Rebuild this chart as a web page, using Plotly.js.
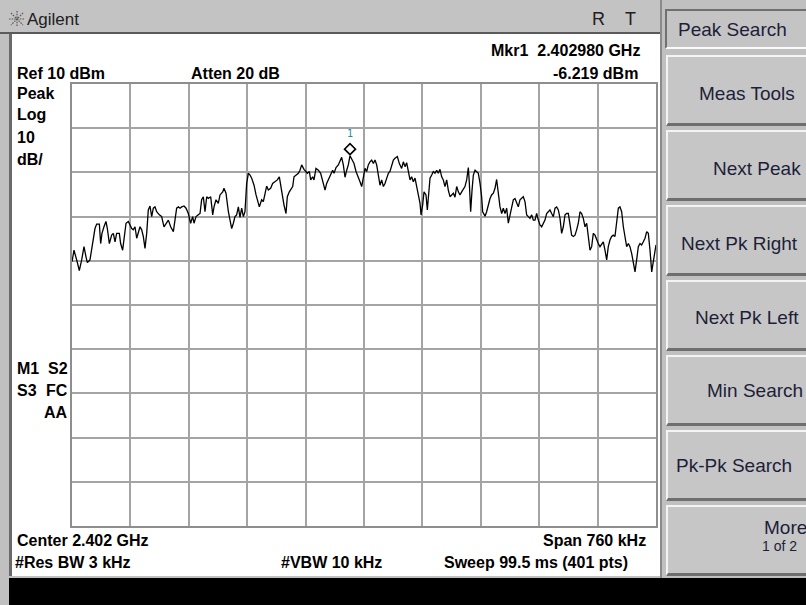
<!DOCTYPE html>
<html><head><meta charset="utf-8">
<script src="https://cdn.plot.ly/plotly-3.0.1.min.js"></script>
<style>
html,body{margin:0;padding:0;}
body{width:806px;height:605px;overflow:hidden;position:relative;background:#c0c0c0;font-family:"Liberation Sans",Arial,sans-serif;}
.abs{position:absolute;}
#titlebar{left:0;top:0;width:660px;height:32px;background:#c3c3c3;border-bottom:2px solid #5a5a5a;}
#screen{left:9px;top:34px;width:649px;height:542px;background:#fff;border-left:3px solid #6a6a6a;}
#black{left:9px;top:578px;width:797px;height:27px;background:#000;}
#keys{left:660px;top:0;width:146px;height:578px;background:#c0c0c0;border-left:2px solid #8a8a8a;}
#hdr{left:665px;top:9px;width:150px;height:36px;background:#c4c4c4;border-top:2px solid #707070;border-left:2px solid #707070;border-bottom:2px solid #fafafa;}
.key{position:absolute;left:666px;width:150px;height:66px;background:#c6c6c6;border-top:2px solid #f4f4f4;border-left:2px solid #f4f4f4;border-bottom:3px solid #6e6e6e;}
.lbl{position:absolute;font-size:19px;color:#1e1e3a;white-space:nowrap;line-height:1;}
.tt{position:absolute;color:#202020;white-space:nowrap;line-height:1;}
#chart{position:absolute;left:0;top:0;width:806px;height:605px;}
</style></head>
<body>
<div id="titlebar" class="abs"></div>
<svg class="abs" style="left:9px;top:11px" width="16" height="16" viewBox="0 0 16 16">
  <g stroke="#555" stroke-width="1.2" stroke-dasharray="1.5,1.2">
    <line x1="8" y1="0" x2="8" y2="16"/><line x1="0" y1="8" x2="16" y2="8"/>
    <line x1="2" y1="2" x2="14" y2="14"/><line x1="14" y1="2" x2="2" y2="14"/>
  </g>
</svg>
<div class="tt" style="left:27px;top:11px;font-size:17px;">Agilent</div>
<div class="tt" style="left:592px;top:10px;font-size:18px;">R</div>
<div class="tt" style="left:625px;top:10px;font-size:18px;">T</div>
<div id="screen" class="abs"></div>
<div id="keys" class="abs"></div>
<div id="hdr" class="abs"></div>
<div class="lbl" style="left:678px;top:20px;">Peak Search</div>
<div class="key" style="top:55px"></div>
<div class="key" style="top:130px"></div>
<div class="key" style="top:205px"></div>
<div class="key" style="top:280px"></div>
<div class="key" style="top:355px"></div>
<div class="key" style="top:430px"></div>
<div class="key" style="top:505px"></div>
<div class="lbl" style="left:699px;top:84px;">Meas Tools</div>
<div class="lbl" style="left:713px;top:159px;">Next Peak</div>
<div class="lbl" style="left:681px;top:234px;">Next Pk Right</div>
<div class="lbl" style="left:695px;top:308px;">Next Pk Left</div>
<div class="lbl" style="left:707px;top:381px;">Min Search</div>
<div class="lbl" style="left:676px;top:456px;">Pk-Pk Search</div>
<div class="lbl" style="left:764px;top:518px;">More</div>
<div class="lbl" style="left:762px;top:539px;font-size:14px;">1 of 2</div>
<div id="black" class="abs"></div>
<div id="chart"></div>
<script>
// Sweep settings
const centerGHz = 2.402;
const spanKHz = 760;
const refLevelDbm = 10;
const dbPerDiv = 10;

// Trace: frequency offset from center (kHz) and level (dBm)
const freqOffsetKHz = [
-380.0,-377.4,-373.9,-370.5,-367.4,-364.4,-361.8,-360.0,-356.6,-353.1,
-350.1,-347.9,-344.4,-342.7,-341.0,-338.4,-335.8,-334.0,-331.4,-328.4,
-326.2,-324.0,-321.9,-318.4,-316.7,-314.1,-312.3,-309.7,-306.7,-304.5,
-302.3,-300.2,-298.0,-295.8,-293.7,-291.5,-289.3,-287.2,-285.0,-282.8,
-280.7,-278.5,-276.3,-274.2,-272.0,-269.8,-266.3,-263.3,-260.3,-257.7,
-254.6,-251.6,-248.1,-246.0,-243.8,-241.6,-239.4,-237.3,-234.2,-231.6,
-228.6,-225.6,-223.0,-221.2,-218.6,-215.6,-213.4,-211.3,-209.1,-206.9,
-204.7,-202.6,-199.5,-196.9,-195.2,-192.6,-189.6,-187.4,-183.9,-182.2,
-179.6,-176.5,-174.4,-172.2,-170.0,-167.9,-165.7,-163.5,-161.4,-159.2,
-157.0,-154.9,-152.7,-150.5,-148.3,-146.2,-143.1,-140.5,-136.2,-133.2,
-131.0,-128.8,-126.7,-124.5,-121.5,-118.9,-115.8,-112.8,-110.2,-107.1,
-104.1,-101.5,-99.8,-97.2,-95.4,-92.8,-91.1,-88.5,-85.4,-83.3,
-81.1,-78.1,-75.5,-73.7,-71.1,-69.4,-66.8,-65.1,-62.5,-59.4,
-56.4,-53.8,-50.7,-48.6,-46.4,-43.4,-40.8,-39.0,-36.4,-33.4,
-31.2,-29.1,-26.9,-24.7,-22.5,-20.4,-18.2,
-13.0,-10.4,-7.4,-5.2,-3.0,-0.8,1.3,3.5,5.6,7.8,
10.0,12.2,14.3,16.5,18.7,20.8,23.0,25.2,27.3,29.5,
31.7,33.8,36.0,38.2,40.3,43.4,46.0,49.0,51.2,53.4,
55.5,57.7,59.9,62.0,64.2,66.4,68.5,70.7,72.9,74.2,
76.3,78.1,80.7,82.4,84.2,85.9,88.1,90.2,92.4,94.6,
96.7,98.9,101.1,103.2,105.4,107.6,109.7,111.9,114.1,116.3,
118.4,120.6,122.8,124.9,127.1,129.3,131.4,133.6,135.8,137.1,
138.8,140.6,142.3,144.5,146.6,148.8,151.0,153.1,154.4,157.5,
159.6,161.8,164.0,166.1,168.3,170.5,172.6,174.8,177.0,179.2,
181.3,183.5,185.7,187.8,190.0,192.2,194.3,196.5,198.7,200.8,
203.0,205.2,207.3,209.5,211.7,213.9,216.0,218.2,220.4,222.5,
224.7,226.9,229.0,231.2,233.4,235.5,237.7,239.9,242.0,244.2,
246.4,248.6,250.7,252.9,255.1,257.2,259.4,261.6,263.7,265.9,
268.1,270.2,272.4,274.6,276.7,278.9,281.1,283.2,285.4,287.6,
289.8,291.9,294.1,296.3,298.4,300.6,302.8,304.9,307.1,309.3,
311.4,313.6,315.8,317.9,320.1,322.3,324.4,326.6,328.8,331.0,
333.1,335.3,337.5,339.6,341.8,344.0,346.1,348.3,349.6,352.7,
354.8,357.0,359.2,361.3,363.5,365.7,367.9,370.0,372.2,374.4,
376.5,378.7,380.0
];
const levelDbm = [
-30.2,-27.6,-29.8,-32.2,-29.8,-26.8,-29.1,-30.4,-29.8,-26.1,
-22.7,-21.7,-21.7,-26.1,-23.8,-22.3,-21.1,-22.7,-26.1,-24.2,
-23.8,-25.7,-23.8,-23.8,-26.1,-27.6,-24.5,-21.5,-21.1,-21.9,
-22.7,-23.0,-22.3,-24.9,-23.4,-22.3,-23.0,-24.5,-27.2,-23.8,
-18.5,-17.6,-20.0,-18.1,-17.8,-18.9,-19.6,-20.0,-22.3,-21.5,
-20.8,-22.3,-23.4,-20.8,-18.1,-17.8,-18.1,-17.8,-17.6,-18.1,
-19.3,-21.5,-20.0,-21.5,-20.0,-19.6,-19.3,-16.2,-15.5,-18.9,
-15.5,-15.9,-15.5,-19.6,-17.8,-16.2,-17.0,-15.1,-14.4,-13.6,
-14.7,-18.9,-20.8,-22.7,-21.5,-20.0,-19.6,-17.8,-20.2,-18.1,
-20.0,-18.9,-12.5,-10.2,-10.6,-11.3,-12.9,-15.1,-17.8,-16.2,
-16.6,-15.1,-13.1,-14.0,-13.6,-12.5,-12.1,-11.7,-11.0,-14.7,
-17.4,-19.3,-15.5,-14.4,-14.0,-13.2,-11.0,-10.6,-10.2,-9.5,
-8.3,-9.3,-9.8,-10.2,-9.8,-11.7,-11.0,-11.7,-9.1,-9.5,
-10.2,-12.1,-14.0,-12.5,-11.7,-10.6,-9.5,-10.2,-8.9,-8.3,
-7.2,-6.6,-8.3,-11.1,-9.5,-8.3,-6.219,
-8.0,-9.8,-11.0,-12.1,-13.2,-11.0,-9.1,-9.8,-8.3,-7.6,
-7.2,-8.0,-7.2,-8.3,-10.6,-12.9,-11.7,-13.2,-12.5,-11.3,
-10.2,-9.8,-8.3,-7.2,-6.8,-6.4,-8.0,-9.1,-7.6,-8.7,
-7.8,-10.2,-11.7,-11.0,-12.1,-11.3,-13.2,-15.1,-17.0,-19.6,
-17.4,-14.4,-15.1,-18.5,-14.7,-11.3,-10.6,-9.8,-10.2,-9.5,
-10.2,-9.3,-11.0,-11.7,-13.2,-11.7,-14.0,-15.5,-15.1,-14.7,
-15.6,-13.2,-14.4,-15.1,-14.4,-13.6,-13.2,-11.7,-8.9,-12.5,
-18.9,-14.0,-10.6,-9.5,-9.8,-10.2,-12.5,-15.5,-18.9,-19.9,
-18.9,-17.0,-15.9,-15.1,-14.7,-13.6,-11.6,-14.7,-17.8,-19.3,
-18.1,-19.3,-18.1,-21.5,-19.6,-17.8,-16.2,-15.9,-17.0,-17.8,
-16.2,-15.9,-15.5,-16.6,-19.6,-20.0,-20.4,-19.6,-20.8,-20.8,
-19.3,-20.8,-21.9,-22.3,-21.5,-20.8,-19.3,-18.9,-18.5,-19.3,
-20.0,-18.1,-17.8,-18.5,-20.4,-23.8,-22.3,-19.6,-19.3,-19.3,
-22.3,-24.2,-24.5,-24.2,-23.0,-21.5,-18.9,-19.3,-20.4,-22.3,
-21.5,-24.2,-27.6,-26.8,-23.8,-24.2,-25.3,-26.1,-26.8,-26.1,
-25.7,-27.6,-29.8,-26.8,-25.3,-24.5,-24.2,-24.5,-20.8,-18.1,
-17.8,-18.9,-22.3,-24.5,-26.8,-26.1,-26.8,-28.3,-29.8,-32.5,
-29.8,-26.8,-26.1,-26.4,-25.7,-24.9,-23.4,-23.8,-27.6,-32.5,
-30.2,-27.2,-26.4
];

// Marker 1
const mkrFreqKHz = -18.2;
const mkrLevelDbm = -6.219;

// Screen annotation texts
const topTexts = { mkr: 'Mkr1&nbsp;&nbsp;2.402980 GHz', ref: 'Ref 10 dBm', atten: 'Atten 20 dB', mkrVal: '-6.219 dBm' };
const leftTexts = ['Peak', 'Log', '10', 'dB/'];
const statusTexts = [['M1', 'S2'], ['S3', 'FC'], ['', 'AA']];
const bottomTexts = { center: 'Center 2.402 GHz', span: 'Span 760 kHz', rbw: '#Res BW 3 kHz', vbw: '#VBW 10 kHz', sweep: 'Sweep 99.5 ms (401 pts)' };

// Plot area in page pixels
const PL = 72, PR = 656, PT = 84, PB = 526;
function ann(text, px, py, anchor) {
  return { xref: 'paper', yref: 'paper', x: (px - PL) / (PR - PL), y: (PB - py) / (PB - PT),
    text: '<b>' + text + '</b>', showarrow: false, xanchor: anchor, yanchor: 'middle',
    borderpad: 0, font: { family: 'Liberation Sans, Arial, sans-serif', size: 16, color: '#000' } };
}
const annotations = [
  ann(topTexts.mkr, 641, 50, 'right'),
  ann(topTexts.ref, 16, 73, 'left'),
  ann(topTexts.atten, 190, 73, 'left'),
  ann(topTexts.mkrVal, 639, 73, 'right'),
  ann(leftTexts[0], 16, 93, 'left'),
  ann(leftTexts[1], 16, 115, 'left'),
  ann(leftTexts[2], 16, 137, 'left'),
  ann(leftTexts[3], 16, 159, 'left'),
  ann(statusTexts[0][0], 16, 368, 'left'),
  ann(statusTexts[0][1], 69, 368, 'right'),
  ann(statusTexts[1][0], 16, 390, 'left'),
  ann(statusTexts[1][1], 69, 390, 'right'),
  ann(statusTexts[2][1], 69, 412, 'right'),
  ann(bottomTexts.center, 16, 540, 'left'),
  ann(bottomTexts.span, 647, 540, 'right'),
  ann(bottomTexts.rbw, 14, 562, 'left'),
  ann(bottomTexts.vbw, 280, 562, 'left'),
  ann(bottomTexts.sweep, 443, 562, 'left'),
  { x: mkrFreqKHz, y: mkrLevelDbm, xref: 'x', yref: 'y', text: '1', showarrow: false,
    yshift: 22, font: { family: 'DejaVu Sans Mono, monospace', size: 10, color: '#1b8fa0' } }
];

const trace = {
  x: freqOffsetKHz, y: levelDbm, type: 'scatter', mode: 'lines',
  line: { color: '#000', width: 1.3 }, hoverinfo: 'skip'
};

const axisCommon = {
  showgrid: true, gridcolor: '#a4a4a4', gridwidth: 2, zeroline: false,
  showline: true, mirror: true, linecolor: '#8e8e8e', linewidth: 2,
  ticks: '', showticklabels: false, fixedrange: true
};

const layout = {
  width: 806, height: 605,
  margin: { l: PL, r: 806 - PR, t: PT, b: 605 - PB, pad: 0 },
  paper_bgcolor: 'rgba(0,0,0,0)', plot_bgcolor: '#ffffff',
  showlegend: false,
  xaxis: Object.assign({}, axisCommon, { range: [-spanKHz / 2, spanKHz / 2], tick0: -spanKHz / 2, dtick: spanKHz / 10 }),
  yaxis: Object.assign({}, axisCommon, { range: [refLevelDbm - 10 * dbPerDiv, refLevelDbm], tick0: refLevelDbm, dtick: dbPerDiv }),
  shapes: [{
    type: 'path', xref: 'x', yref: 'y', xsizemode: 'pixel', ysizemode: 'pixel',
    xanchor: mkrFreqKHz, yanchor: mkrLevelDbm,
    path: 'M0,1 L5.5,6.5 L0,12 L-5.5,6.5 Z',
    line: { color: '#000', width: 1.6 }, fillcolor: 'rgba(255,255,255,1)'
  }],
  annotations: annotations
};

Plotly.newPlot('chart', [trace], layout, { staticPlot: true, displayModeBar: false });
</script>
</body></html>
